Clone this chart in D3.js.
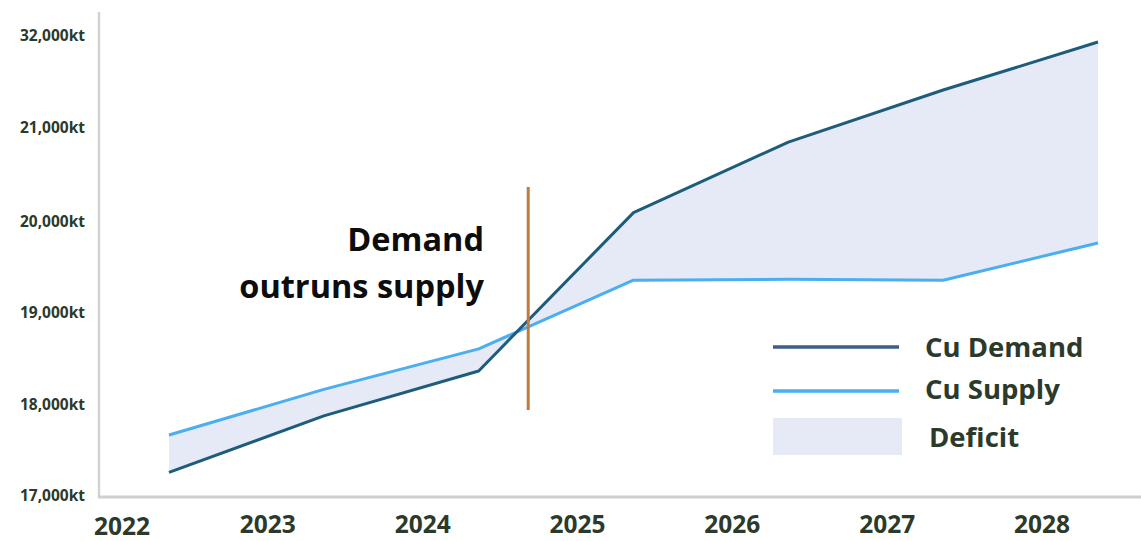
<!DOCTYPE html>
<html>
<head>
<meta charset="utf-8">
<script src="https://cdn.jsdelivr.net/npm/d3@7"></script>
<style>
  html, body { margin: 0; padding: 0; background: #fff; }
  svg { display: block; font-family: "Open Sans", "Noto Sans", sans-serif; }
</style>
</head>
<body>
<svg id="chart" width="1141" height="541"></svg>
<script>
// ---- data ----
const years = [2022, 2023, 2024, 2025, 2026, 2027, 2028];
const demand = [17260, 17880, 18370, 20100, 20850, 25540, 31280];
const supply = [17670, 18170, 18610, 19360, 19370, 19360, 19770];
const yTickValues = [17000, 18000, 19000, 20000, 21000, 32000];
const yTickLabels = ["17,000kt", "18,000kt", "19,000kt", "20,000kt", "21,000kt", "32,000kt"];
const xTickLabels = ["2022", "2023", "2024", "2025", "2026", "2027", "2028"];
const legendLabels = ["Cu Demand", "Cu Supply", "Deficit"];
const annotationLines = ["Demand", "outruns supply"];
const crossoverYear = 2024.32;

// ---- setup ----
const svg = d3.select("#chart");
const textColor = "#2b3a2a";
const demandColor = "#1d5c7b";
const supplyColor = "#4aaef0";
const fillColor = "#e5eaf6";

const x = d3.scaleLinear().domain([2022, 2028]).range([169, 1098]);
const y = d3.scaleLinear().domain(yTickValues).range([496, 405, 313, 222, 128, 36]);

const data = years.map((yr, i) => ({ year: yr, d: demand[i], s: supply[i] }));

// ---- axes lines ----
svg.append("line").attr("x1", 99).attr("x2", 99).attr("y1", 12).attr("y2", 497)
  .attr("stroke", "#d2d2d2").attr("stroke-width", 2.5);
svg.append("line").attr("x1", 98).attr("x2", 1141).attr("y1", 497).attr("y2", 497)
  .attr("stroke", "#cfcfcf").attr("stroke-width", 3);

// y tick labels
svg.append("g").selectAll("text").data(yTickValues).join("text")
  .attr("x", 85).attr("y", d => y(d)).attr("dy", "0.35em")
  .attr("text-anchor", "end").attr("font-size", 15.5).attr("font-weight", 700)
  .attr("fill", textColor)
  .text((d, i) => yTickLabels[i]);

// x tick labels
svg.append("g").selectAll("text").data(years).join("text")
  .attr("x", (d, i) => x(d) - 56 + (i === 0 ? 9 : 0))
  .attr("y", (d, i) => i === 0 ? 535 : 533)
  .attr("text-anchor", "middle").attr("font-size", 24.5).attr("font-weight", 700)
  .attr("fill", textColor)
  .text((d, i) => xTickLabels[i]);

// ---- deficit area ----
const area = d3.area().x(d => x(d.year)).y0(d => y(d.s)).y1(d => y(d.d));
svg.append("path").datum(data).attr("d", area).attr("fill", fillColor);

// ---- lines ----
const lineD = d3.line().x(d => x(d.year)).y(d => y(d.d));
const lineS = d3.line().x(d => x(d.year)).y(d => y(d.s));
svg.append("path").datum(data).attr("d", lineS).attr("fill", "none")
  .attr("stroke", supplyColor).attr("stroke-width", 3).attr("stroke-linejoin", "round");
svg.append("path").datum(data).attr("d", lineD).attr("fill", "none")
  .attr("stroke", demandColor).attr("stroke-width", 3).attr("stroke-linejoin", "round");

// ---- crossover marker ----
svg.append("line").attr("x1", x(crossoverYear)).attr("x2", x(crossoverYear))
  .attr("y1", 187).attr("y2", 410).attr("stroke", "#c07a3e").attr("stroke-width", 3);

// annotation
const ann = svg.append("text").attr("text-anchor", "end").attr("font-size", 32.5)
  .attr("font-weight", 700).attr("fill", "#0d0d0d");
annotationLines.forEach((t, i) => {
  ann.append("tspan").attr("x", 484).attr("y", 251 + i * 47).text(t);
});

// ---- legend ----
const lg = svg.append("g");
lg.append("line").attr("x1", 773).attr("x2", 899).attr("y1", 347).attr("y2", 347)
  .attr("stroke", "#3d5d8a").attr("stroke-width", 3.5);
lg.append("line").attr("x1", 773).attr("x2", 899).attr("y1", 391).attr("y2", 391)
  .attr("stroke", supplyColor).attr("stroke-width", 3.5);
lg.append("rect").attr("x", 773).attr("y", 418).attr("width", 129).attr("height", 37)
  .attr("fill", fillColor);
const legendY = [347, 389, 437];
const legendX = [925, 925, 929];
lg.selectAll("text.lt").data(legendLabels).join("text").attr("class", "lt")
  .attr("x", (d, i) => legendX[i]).attr("y", (d, i) => legendY[i]).attr("dy", "0.35em")
  .attr("font-size", 27.5).attr("font-weight", 700).attr("fill", textColor)
  .text(d => d);
</script>
</body>
</html>
